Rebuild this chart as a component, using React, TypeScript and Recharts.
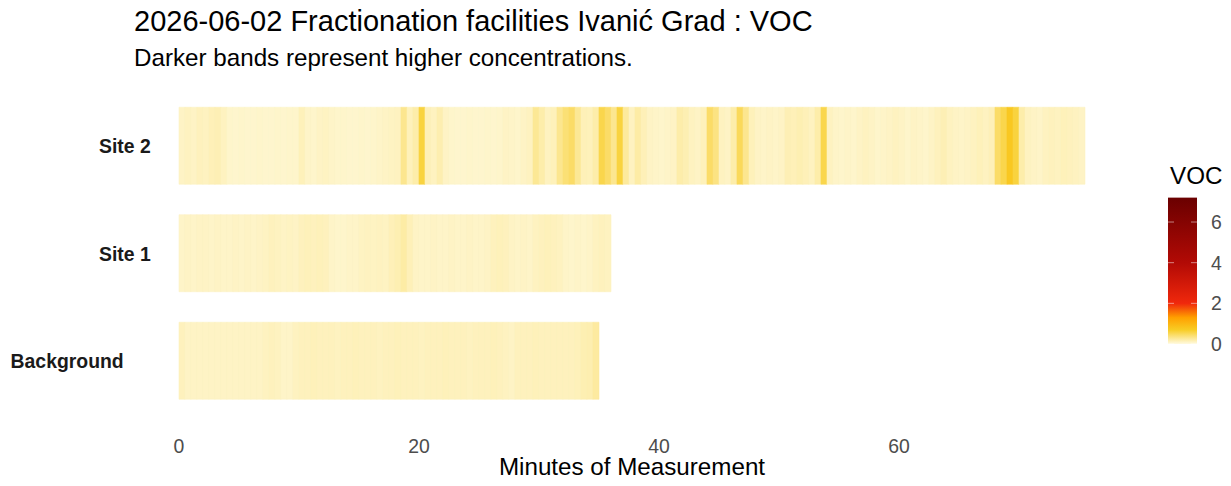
import React from 'react';
import { BarChart, Bar, Cell, XAxis, YAxis } from 'recharts';

// one VOC reading every 30 s, per site
const STEP_MIN = 0.5;

const sites = ['Site 2', 'Site 1', 'Background'];

const site2Voc = [
  0.1, 0.12, 0.1, 0.13, 0.12, 0.15, 0.16, 0.12, 0.08, 0.07,
  0.08, 0.07, 0.07, 0.08, 0.07, 0.07, 0.08, 0.07, 0.08, 0.08,
  0.14, 0.09, 0.08, 0.1, 0.11, 0.09, 0.08, 0.08, 0.07, 0.07,
  0.08, 0.07, 0.08, 0.09, 0.1, 0.11, 0.12, 0.3, 0.14, 0.2,
  0.6, 0.15, 0.12, 0.18, 0.1, 0.08, 0.07, 0.07, 0.08, 0.07,
  0.07, 0.08, 0.07, 0.08, 0.1, 0.09, 0.08, 0.1, 0.12, 0.28,
  0.2, 0.12, 0.14, 0.3, 0.4, 0.45, 0.28, 0.15, 0.14, 0.2,
  0.55, 0.45, 0.3, 0.6, 0.25, 0.12, 0.22, 0.15, 0.1, 0.09,
  0.08, 0.09, 0.1, 0.2, 0.17, 0.12, 0.1, 0.14, 0.45, 0.35,
  0.12, 0.1, 0.2, 0.5, 0.3, 0.14, 0.1, 0.09, 0.1, 0.09,
  0.1, 0.16, 0.15, 0.17, 0.15, 0.12, 0.2, 0.55, 0.12, 0.09,
  0.08, 0.09, 0.08, 0.1, 0.12, 0.1, 0.08, 0.09, 0.1, 0.12,
  0.1, 0.08, 0.1, 0.09, 0.08, 0.1, 0.13, 0.16, 0.12, 0.1,
  0.09, 0.1, 0.12, 0.14, 0.12, 0.15, 0.45, 0.55, 0.75, 0.6,
  0.2, 0.12, 0.1, 0.09, 0.12, 0.13, 0.12, 0.14, 0.13, 0.12,
  0.1,
];

const site1Voc = [
  0.09, 0.1, 0.09, 0.1, 0.1, 0.09, 0.1, 0.09, 0.09, 0.1,
  0.09, 0.1, 0.09, 0.1, 0.11, 0.13, 0.12, 0.1, 0.11, 0.1,
  0.13, 0.14, 0.13, 0.14, 0.13, 0.09, 0.08, 0.08, 0.09, 0.09,
  0.11, 0.12, 0.11, 0.12, 0.11, 0.15, 0.17, 0.22, 0.15, 0.1,
  0.09, 0.09, 0.1, 0.09, 0.09, 0.1, 0.09, 0.09, 0.1, 0.09,
  0.09, 0.1, 0.13, 0.14, 0.13, 0.1, 0.09, 0.1, 0.09, 0.12,
  0.13, 0.14, 0.13, 0.12, 0.09, 0.08, 0.09, 0.08, 0.09, 0.12,
  0.13, 0.12,
];

const backgroundVoc = [
  0.13, 0.1, 0.1, 0.1, 0.1, 0.1, 0.1, 0.1, 0.1, 0.1,
  0.1, 0.1, 0.1, 0.1, 0.12, 0.13, 0.12, 0.09, 0.09, 0.12,
  0.13, 0.13, 0.14, 0.13, 0.13, 0.13, 0.12, 0.13, 0.13, 0.14,
  0.13, 0.13, 0.13, 0.12, 0.13, 0.13, 0.14, 0.13, 0.13, 0.13,
  0.12, 0.13, 0.13, 0.13, 0.14, 0.13, 0.13, 0.13, 0.12, 0.13,
  0.13, 0.13, 0.14, 0.13, 0.12, 0.1, 0.13, 0.13, 0.13, 0.14,
  0.13, 0.13, 0.13, 0.13, 0.13, 0.13, 0.14, 0.17, 0.18, 0.24,
];

const minuteTicks = [0, 20, 40, 60];
const vocLegendTicks = [0, 2, 4, 6];
const vocLimits = [0, 7.2];

// fill scale, light yellow -> dark red
const scaleStops = [
  { v: 0, c: '#FFFAE0' },
  { v: 0.7, c: '#F8CC24' },
  { v: 1.3, c: '#FFA000' },
  { v: 2.0, c: '#F0280C' },
  { v: 4.0, c: '#B20A05' },
  { v: 7.2, c: '#6A0000' },
];

const toRgb = (h: string) => [1, 3, 5].map((i) => parseInt(h.slice(i, i + 2), 16));

const vocColor = (v: number) => {
  let k = 0;
  while (k < scaleStops.length - 2 && v > scaleStops[k + 1].v) k++;
  const a = scaleStops[k];
  const b = scaleStops[k + 1];
  const t = Math.min(1, Math.max(0, (v - a.v) / (b.v - a.v)));
  const ca = toRgb(a.c);
  const cb = toRgb(b.c);
  const rgb = ca.map((x, i) => Math.round(x + (cb[i] - x) * t));
  return `rgb(${rgb.join(',')})`;
};

const readings = [site2Voc, site1Voc, backgroundVoc];
const nSlots = Math.max(...readings.map((r) => r.length));

const rows = sites.map((site, r) => {
  const row: Record<string, string | number> = { site };
  for (let i = 0; i < nSlots; i++) row[`t${i}`] = i < readings[r].length ? STEP_MIN : 0;
  return row;
});

const FONT = '"Liberation Sans", Arial, Helvetica, sans-serif';

const MinuteTick = (props: any) => {
  const { x, y, payload } = props;
  return (
    <text x={x} y={y + 30} textAnchor="middle" fill="#4D4D4D" fontSize={19.4} fontFamily={FONT}>
      {payload.value}
    </text>
  );
};

const SiteTick = (props: any) => {
  const { x, y, payload } = props;
  // the site labels sit closer to the strips than the long "Background" one
  const right = payload.value === 'Background' ? x - 2 : x + 25;
  return (
    <text
      x={right}
      y={y}
      textAnchor="end"
      dominantBaseline="central"
      fill="#1A1A1A"
      fontSize={19.4}
      fontWeight="bold"
      fontFamily={FONT}
    >
      {payload.value}
    </text>
  );
};

// colourbar, drawn next to the panel
const BAR_X = 1160;
const BAR_W = 29;
const BAR_BOTTOM = 336;
const PX_PER_UNIT = 20.33;
const legendY = (v: number) => BAR_BOTTOM - (v - vocLimits[0]) * PX_PER_UNIT;

const Overlay = () => (
  <svg
    width={1215}
    height={470}
    style={{ position: 'absolute', left: 0, top: 0, pointerEvents: 'none' }}
    fontFamily={FONT}
  >
    <defs>
      <linearGradient id="vocGrad" x1="0" y1="1" x2="0" y2="0">
        {scaleStops.map((s) => (
          <stop key={s.v} offset={(s.v - vocLimits[0]) / (vocLimits[1] - vocLimits[0])} stopColor={s.c} />
        ))}
      </linearGradient>
    </defs>
    <text x={126} y={23} fontSize={29} fill="#000">
      2026-06-02 Fractionation facilities Ivanić Grad : VOC
    </text>
    <text x={126} y={58} fontSize={24.2} fill="#000">
      Darker bands represent higher concentrations.
    </text>
    <text x={624} y={467} fontSize={24.2} fill="#000" textAnchor="middle">
      Minutes of Measurement
    </text>

    <text x={1162} y={176} fontSize={24.2} fill="#000">
      VOC
    </text>
    <rect
      x={BAR_X}
      y={legendY(vocLimits[1])}
      width={BAR_W}
      height={legendY(vocLimits[0]) - legendY(vocLimits[1])}
      fill="url(#vocGrad)"
    />
    {vocLegendTicks.map((t) => (
      <g key={t}>
        <line x1={BAR_X} x2={BAR_X + 6} y1={legendY(t)} y2={legendY(t)} stroke="#fff" strokeOpacity={0.5} />
        <line x1={BAR_X + BAR_W - 6} x2={BAR_X + BAR_W} y1={legendY(t)} y2={legendY(t)} stroke="#fff" strokeOpacity={0.5} />
        <text x={1203} y={legendY(t)} dominantBaseline="central" fontSize={19.4} fill="#4D4D4D">
          {t}
        </text>
      </g>
    ))}
  </svg>
);

export default function App() {
  return (
    <div style={{ position: 'relative', width: 1215, height: 470, background: '#fff', fontFamily: FONT }}>
      <BarChart
        width={1215}
        height={470}
        data={rows}
        layout="vertical"
        margin={{ top: 84.25, right: 92.7, bottom: 23.25, left: 0 }}
        barCategoryGap={0}
      >
        <XAxis
          type="number"
          domain={[-3.775, 79.275]}
          ticks={minuteTicks}
          allowDataOverflow
          axisLine={false}
          tickLine={false}
          height={40}
          tick={(p: any) => <MinuteTick {...p} />}
        />
        <YAxis
          type="category"
          dataKey="site"
          width={125.7}
          axisLine={false}
          tickLine={false}
          tick={(p: any) => <SiteTick {...p} />}
        />
        {Array.from({ length: nSlots }, (_, i) => (
          <Bar key={i} dataKey={`t${i}`} stackId="voc" barSize={77} isAnimationActive={false}>
            {rows.map((_, r) => {
              const v = readings[r][i];
              const fill = v === undefined ? 'none' : vocColor(v);
              return <Cell key={r} fill={fill} stroke={fill} strokeWidth={0.6} />;
            })}
          </Bar>
        ))}
      </BarChart>
      <Overlay />
    </div>
  );
}
